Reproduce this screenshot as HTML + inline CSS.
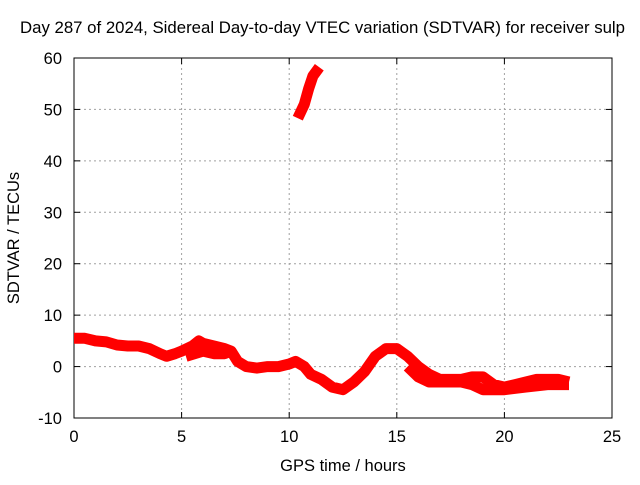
<!DOCTYPE html>
<html><head><meta charset="utf-8"><style>
body{margin:0;background:#fff}
svg text{font-family:"Liberation Sans",sans-serif;font-size:16.5px;fill:#000}
</style></head><body>
<svg id="c" width="640" height="480"></svg>
<script>
const xTicks=[0,5,10,15,20,25];
const yTicks=[-10,0,10,20,30,40,50,60];
const upperH=[0,0.5,1,1.5,2,2.5,3,3.5,4,4.3,4.7,5,5.5,5.8,6,6.5,7,7.3,7.6,8,8.5,9,9.5,10,10.3,10.7,11,11.5,12,12.5,13,13.5,14,14.5,15,15.5,16,16.5,17,17.5,18,18.5,19,19.5,20,20.5,21,21.5,22,22.5,23];
const upperV=[5.5,5.5,5,4.8,4.2,4,4,3.5,2.5,2,2.5,3,4,5,4.5,4,3.5,3,1,0,-0.3,0,0,0.5,1,0,-1.5,-2.5,-4,-4.5,-3,-1,2,3.5,3.5,2,0,-1.5,-2.5,-2.5,-2.5,-2,-2,-3.5,-4,-3.5,-3,-2.5,-2.5,-2.5,-3];
const lowerH=[5.2,5.6,6,6.5,7,7.3];
const lowerV=[2,2.5,3,2.5,2.5,3];
const lower2H=[15.5,16,16.5,17,18,18.5,19,20,21,22,23];
const lower2V=[0,-2,-3,-3,-3,-3.5,-4.5,-4.5,-4,-3.5,-3.5];
const topH=[10.4,10.7,10.9,11.1,11.4];
const topV=[48.3,51,54,56.5,58.2];
const X0=74,X1=612,Y0=418,Y1=58;
const sx=h=>X0+(h-0)/(25-0)*(X1-X0);
const sy=v=>Y0-(v+10)/70*(Y0-Y1);
const svg=document.getElementById('c');
const NS='http://www.w3.org/2000/svg';
function mk(t,a){const e=document.createElementNS(NS,t);for(const k in a)e.setAttribute(k,a[k]);svg.appendChild(e);return e;}
const title=mk('text',{x:20,y:33,style:'font-size:16.8px'});title.textContent='Day 287 of 2024, Sidereal Day-to-day VTEC variation (SDTVAR) for receiver sulp';


xTicks.forEach(t=>{const x=sx(t);
 if(t>0&&t<25){const g=mk('line',{x1:x,x2:x,y1:Y1,y2:Y0,stroke:'#a0a0a0','stroke-dasharray':'2,3'});
 
 }
 mk('line',{x1:x,x2:x,y1:Y0,y2:Y0-6,stroke:'#000'});mk('line',{x1:x,x2:x,y1:Y1,y2:Y1+6,stroke:'#000'});
 const l=mk('text',{x:x,y:Y0+24,'text-anchor':'middle'});l.textContent=t;
 
 });
yTicks.forEach(t=>{const y=sy(t);
 if(t>-10&&t<60){const g=mk('line',{x1:X0,x2:X1,y1:y,y2:y,stroke:'#a0a0a0','stroke-dasharray':'2,3'});
 
 }
 mk('line',{x1:X0,x2:X0+6,y1:y,y2:y,stroke:'#000'});mk('line',{x1:X1,x2:X1-6,y1:y,y2:y,stroke:'#000'});
 const l=mk('text',{x:X0-12,y:y+6,'text-anchor':'end'});l.textContent=t;
 
 });
const fr=mk('rect',{x:X0,y:Y1,width:X1-X0,height:Y0-Y1,fill:'none',stroke:'#000'});


function series(H,V,name){const p=H.map((h,i)=>sx(h).toFixed(1)+','+sy(V[i]).toFixed(1)).join(' ');
 const e=mk('polyline',{points:p,fill:'none',stroke:'#f00','stroke-width':11,'stroke-linejoin':'round','stroke-linecap':'butt'});
 
 }
series(upperH,upperV,'sdtvar-series-main');
series(lowerH,lowerV,'sdtvar-series-branch-a');
series(lower2H,lower2V,'sdtvar-series-branch-b');
series(topH,topV,'sdtvar-series-outlier');
const xl=mk('text',{x:(X0+X1)/2,y:471,'text-anchor':'middle'});xl.textContent='GPS time / hours';


const yl=mk('text',{x:0,y:0,'text-anchor':'middle',transform:'translate(19,238) rotate(-90)'});yl.textContent='SDTVAR / TECUs';


</script>
</body></html>
